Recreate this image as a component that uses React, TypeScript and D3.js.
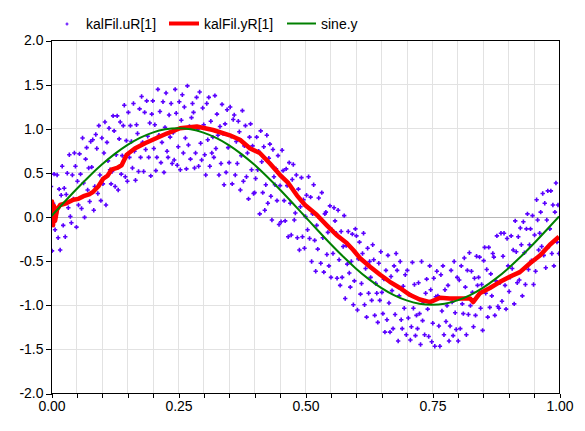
import * as d3 from "d3";
import { useEffect, useRef } from "react";

const WIDTH = 585;
const HEIGHT = 431;

// sine.y sampled every 0.025 s
const SINE_Y = [
  0, 0.156, 0.309, 0.454, 0.588, 0.707, 0.809, 0.891, 0.951, 0.988, 1.0,
  0.988, 0.951, 0.891, 0.809, 0.707, 0.588, 0.454, 0.309, 0.156, 0,
  -0.156, -0.309, -0.454, -0.588, -0.707, -0.809, -0.891, -0.951, -0.988, -1.0,
  -0.988, -0.951, -0.891, -0.809, -0.707, -0.588, -0.454, -0.309, -0.156, 0,
];

// kalFil.uR[1], noisy samples, evenly spaced over [0, 1]
const UR_VALUES = [
  0.34, -0.39, 0.15, 0.48, -0.15, 0.04, 0.47, -0.24, 0.31, -0.38, 0.24, 0.57, -0.1, 0.32, -0.23, 0.25, 0.49, 0.1, 0.7, 0.0,
  -0.07, 0.47, 0.2, 0.72, 0.57, -0.12, 0.4, 0.13, 0.71, 0.48, 0.09, 0.89, 0.38, -0.01, 0.65, 0.78, 0.3, 0.55, 0.17, 0.85,
  0.56, 0.87, 0.07, 0.34, 0.93, 0.77, 0.26, 1.03, 0.47, 0.18, 0.89, 0.37, 0.72, 1.07, 0.13, 0.84, 0.63, 1.0, 0.53, 0.37,
  0.51, 1.14, 0.97, 0.34, 0.7, 1.14, 0.3, 0.88, 1.07, 0.48, 0.69, 1.03, 1.26, 0.45, 0.86, 0.4, 1.18, 0.67, 1.03, 0.85,
  0.55, 1.28, 0.74, 0.41, 1.04, 0.94, 0.51, 1.22, 0.67, 1.36, 0.84, 0.51, 1.18, 0.76, 1.31, 0.91, 0.67, 1.06, 0.46, 1.16,
  1.31, 0.77, 1.04, 0.52, 0.67, 1.44, 0.92, 1.19, 0.61, 0.84, 1.3, 0.5, 1.01, 1.4, 0.74, 0.67, 1.15, 0.9, 1.28, 0.6,
  0.95, 0.64, 1.44, 1.17, 0.58, 0.79, 1.3, 0.53, 1.09, 1.38, 0.72, 1.24, 0.89, 0.54, 1.48, 0.81, 1.02, 0.65, 1.12, 1.28,
  1.18, 0.55, 0.72, 1.35, 0.99, 0.57, 1.41, 0.83, 0.64, 1.23, 1.04, 0.7, 0.47, 1.28, 0.87, 1.35, 0.57, 1.08, 0.72, 0.9,
  0.67, 1.37, 0.77, 1.16, 0.92, 0.47, 1.02, 0.6, 1.27, 0.94, 0.36, 1.05, 0.5, 1.21, 0.78, 0.61, 1.24, 0.91, 0.37, 1.1,
  1.15, 0.47, 0.85, 0.6, 1.08, 0.96, 0.3, 0.69, 1.2, 0.4, 0.8, 1.03, 0.45, 0.72, 0.2, 0.9, 1.05, 0.53, 0.8, 0.26,
  0.27, 0.43, 0.9, 0.53, 0.74, 0.03, 0.97, 0.62, 0.27, 0.79, 0.07, 0.36, 0.92, 0.15, 0.66, 0.82, 0.23, -0.04, 0.76, 0.45,
  0.36, 0.54, 0.18, 0.69, -0.09, 0.35, -0.06, 0.75, 0.52, 0.18, -0.05, 0.54, 0.35, -0.23, 0.61, 0.15, -0.21, 0.42, 0.59, -0.04,
  0.04, 0.47, -0.24, 0.31, -0.38, 0.11, 0.44, -0.23, 0.19, -0.36, 0.0, 0.24, -0.15, 0.45, -0.25, 0.22, -0.51, 0.03, 0.36, -0.27,
  -0.62, -0.1, -0.37, 0.21, -0.02, -0.53, 0.27, -0.24, -0.63, 0.03, 0.05, -0.43, -0.18, -0.56, 0.12, -0.69, -0.15, -0.42, 0.1, -0.05,
  -0.19, -0.7, 0.07, -0.49, -0.78, -0.17, -0.69, -0.34, 0.01, -0.93, -0.33, -0.54, -0.17, -0.64, -0.8, -0.51, -0.2, -1.0, -0.73, -0.14,
  -0.22, -1.06, -0.48, -0.29, -0.88, -0.76, -0.42, -0.19, -1.0, -0.59, -1.14, -0.36, -0.87, -0.51, -0.69, -0.95, -0.32, -0.49, -1.12, -0.76,
  -0.87, -1.2, -0.53, -0.95, -0.4, -0.86, -1.1, -0.71, -1.31, -0.61, -1.17, -0.44, -0.98, -1.31, -0.68, -0.84, -1.27, -0.56, -1.11, -0.42,
  -0.61, -1.41, -0.9, -0.51, -1.17, -1.27, -0.79, -1.04, -0.66, -1.34, -0.61, -1.15, -0.88, -1.4, -1.25, -0.52, -1.04, -0.77, -1.35, -1.12,
  -1.27, -0.75, -1.1, -1.45, -0.51, -1.18, -0.97, -1.34, -0.87, -0.71, -1.05, -1.36, -0.56, -0.83, -1.42, -1.21, -0.7, -1.47, -0.91, -0.62,
  -0.9, -1.24, -1.47, -0.66, -1.07, -0.56, -1.34, -0.83, -1.19, -1.01, -0.78, -1.41, -1.24, -0.61, -0.97, -1.35, -0.51, -1.09, -1.28, -0.69,
  -1.41, -0.72, -1.27, -0.56, -0.99, -1.1, -0.47, -0.8, -1.34, -0.61, -1.11, -0.41, -1.01, -0.62, -0.86, -1.25, -0.7, -1.12, -0.45, -0.78,
  -0.69, -0.46, -1.04, -0.77, -1.29, -0.5, -0.35, -0.87, -0.6, -1.14, -0.35, -1.03, -0.65, -0.9, -0.42, -0.46, -1.12, -0.73, -0.22, -1.02,
  -1.04, -0.75, -0.19, -0.96, -0.45, -0.19, -0.78, -1.05, -0.25, -0.56, -0.85, -0.69, -0.22, -0.59, -0.38, -0.99, -0.05, -0.4, -0.75, -0.23,
  -0.72, -0.13, -0.32, -0.9, -0.06, -0.41, -0.77, -0.14, 0.03, -0.6, -0.32, -0.14, -0.5, 0.01, -0.77, -0.21, -0.62, 0.19, -0.04, -0.38,
  -0.19, 0.05, -0.34, 0.26, -0.44, 0.15, -0.58, -0.04, 0.29, -0.34, -0.14, 0.29, -0.42, 0.13, -0.56, 0.05, 0.38, -0.29, 0.13, -0.42,
];

// kalFil.yR[1], filter estimate
const YR_TIME = [
  0, 0.002, 0.004, 0.006, 0.008, 0.012, 0.018, 0.03, 0.044, 0.054, 0.064, 0.075, 0.083, 0.093,
  0.103, 0.111, 0.119, 0.13, 0.139, 0.149, 0.165, 0.185, 0.208, 0.228, 0.254, 0.287, 0.319, 0.352,
  0.372, 0.392, 0.411, 0.431, 0.451, 0.467, 0.484, 0.5, 0.523, 0.543, 0.562, 0.582, 0.595,
  0.608, 0.628, 0.648, 0.667, 0.687, 0.707, 0.726, 0.746, 0.766, 0.785, 0.805, 0.825, 0.831,
  0.844, 0.864, 0.884, 0.904, 0.923, 0.943, 0.963, 0.982, 1.0,
];
const YR_VALUES = [
  -0.12, 0.17, -0.1, 0.12, -0.05, 0.08, 0.13, 0.15, 0.19, 0.2, 0.23, 0.25, 0.28, 0.34,
  0.43, 0.46, 0.53, 0.55, 0.58, 0.7, 0.77, 0.83, 0.89, 0.94, 1.0, 1.02, 0.98, 0.92,
  0.87, 0.77, 0.72, 0.6, 0.47, 0.38, 0.24, 0.13, 0.02, -0.1, -0.21, -0.3, -0.38,
  -0.47, -0.57, -0.66, -0.74, -0.81, -0.89, -0.94, -0.97, -0.92, -0.93, -0.93, -0.93, -0.97,
  -0.87, -0.81, -0.74, -0.68, -0.63, -0.53, -0.44, -0.32, -0.23,
];

const X_LABELS = [0, 0.25, 0.5, 0.75, 1];
const LEGEND = ["kalFil.uR[1]", "kalFil.yR[1]", "sine.y"];
const COLORS = ["#5a00ff", "#ff0000", "#008000"];
const FONT = "'Liberation Sans', Arial, sans-serif";

export default function App() {
  const svgRef = useRef<SVGSVGElement>(null);

  useEffect(() => {
    const svg = d3.select(svgRef.current);
    svg.selectAll("*").remove();

    const x = d3.scaleLinear().domain([0, 1]).range([51, 559]);
    const y = d3.scaleLinear().domain([-2, 2]).range([393, 40]);
    const idx = d3.scaleLinear().domain([0, UR_VALUES.length - 1]).range([0, 1]);
    const sineT = d3.scaleLinear().domain([0, SINE_Y.length - 1]).range([0, 1]);

    svg.append("rect").attr("width", WIDTH).attr("height", HEIGHT).attr("fill", "#fff");

    // grid
    const grid = svg.append("g").attr("shape-rendering", "crispEdges");
    grid
      .selectAll("line.v")
      .data(x.ticks(20))
      .join("line")
      .attr("x1", (d) => Math.round(x(d)) + 0.5)
      .attr("x2", (d) => Math.round(x(d)) + 0.5)
      .attr("y1", y(2))
      .attr("y2", y(-2))
      .attr("stroke", "#e2e2e2");
    grid
      .selectAll("line.h")
      .data(y.ticks(8))
      .join("line")
      .attr("x1", x(0))
      .attr("x2", x(1))
      .attr("y1", (d) => Math.round(y(d)) + 0.5)
      .attr("y2", (d) => Math.round(y(d)) + 0.5)
      .attr("stroke", (d) => (d === 0 ? "#b8b8b8" : "#e2e2e2"));

    svg
      .append("clipPath")
      .attr("id", "plot-clip")
      .append("rect")
      .attr("x", x(0))
      .attr("y", y(2))
      .attr("width", x(1) - x(0))
      .attr("height", y(-2) - y(2));

    const plot = svg.append("g").attr("clip-path", "url(#plot-clip)");

    const cross = "M-2.2,0H2.2M0,-2.2V2.2";
    plot
      .append("g")
      .selectAll("path")
      .data(UR_VALUES)
      .join("path")
      .attr("d", cross)
      .attr("transform", (d, i) => `translate(${x(idx(i))},${y(d)})`)
      .attr("stroke", COLORS[0])
      .attr("stroke-width", 1.6)
      .attr("fill", "none");

    const yrLine = d3
      .line<number>()
      .x((_, i) => x(YR_TIME[i]))
      .y((d) => y(d));
    plot
      .append("path")
      .attr("d", yrLine(YR_VALUES) ?? "")
      .attr("fill", "none")
      .attr("stroke", COLORS[1])
      .attr("stroke-width", 4.5)
      .attr("stroke-linejoin", "round");

    const sineLine = d3
      .line<number>()
      .curve(d3.curveMonotoneX)
      .x((_, i) => x(sineT(i)))
      .y((d) => y(d));
    plot
      .append("path")
      .attr("d", sineLine(SINE_Y) ?? "")
      .attr("fill", "none")
      .attr("stroke", COLORS[2])
      .attr("stroke-width", 2);

    // frame
    svg
      .append("rect")
      .attr("x", x(0) + 0.5)
      .attr("y", y(2) + 0.5)
      .attr("width", x(1) - x(0))
      .attr("height", y(-2) - y(2))
      .attr("fill", "none")
      .attr("stroke", "#000")
      .attr("shape-rendering", "crispEdges");

    // axes
    const xAxis = d3
      .axisBottom(x)
      .tickValues(x.ticks(20))
      .tickSize(4)
      .tickPadding(4)
      .tickFormat((d) => (X_LABELS.some((v) => Math.abs(v - +d) < 1e-9) ? (+d).toFixed(2) : ""));
    const gx = svg.append("g").attr("transform", `translate(0.5,${y(-2) + 0.5})`).call(xAxis);
    gx.select(".domain").remove();
    gx.selectAll("line").attr("shape-rendering", "crispEdges");
    gx.selectAll("text").attr("font-family", FONT).attr("font-size", 14).attr("fill", "#000");

    const yAxis = d3
      .axisLeft(y)
      .ticks(8)
      .tickSize(6)
      .tickPadding(2)
      .tickFormat((d) => (+d).toFixed(1));
    const gy = svg.append("g").attr("transform", `translate(${x(0) + 0.5},0.5)`).call(yAxis);
    gy.select(".domain").remove();
    gy.selectAll("line").attr("shape-rendering", "crispEdges");
    gy.selectAll("text").attr("font-family", FONT).attr("font-size", 14).attr("fill", "#000");

    // legend
    const legend = svg.append("g").attr("font-family", FONT).attr("font-size", 14);
    const legendX = [86, 204, 321];
    legend
      .append("path")
      .attr("d", "M-1.5,0H1.5M0,-1.5V1.5")
      .attr("transform", "translate(67,24)")
      .attr("stroke", COLORS[0])
      .attr("stroke-width", 1.2);
    legend
      .append("line")
      .attr("x1", 169)
      .attr("x2", 199)
      .attr("y1", 23.5)
      .attr("y2", 23.5)
      .attr("stroke", COLORS[1])
      .attr("stroke-width", 4);
    legend
      .append("line")
      .attr("x1", 287)
      .attr("x2", 316)
      .attr("y1", 23.5)
      .attr("y2", 23.5)
      .attr("stroke", COLORS[2])
      .attr("stroke-width", 2);
    legend
      .selectAll("text")
      .data(LEGEND)
      .join("text")
      .attr("x", (_, i) => legendX[i])
      .attr("y", 29)
      .text((d) => d);
  }, []);

  return (
    <svg
      ref={svgRef}
      width={WIDTH}
      height={HEIGHT}
      style={{ position: "absolute", left: 0, top: 0 }}
    />
  );
}
